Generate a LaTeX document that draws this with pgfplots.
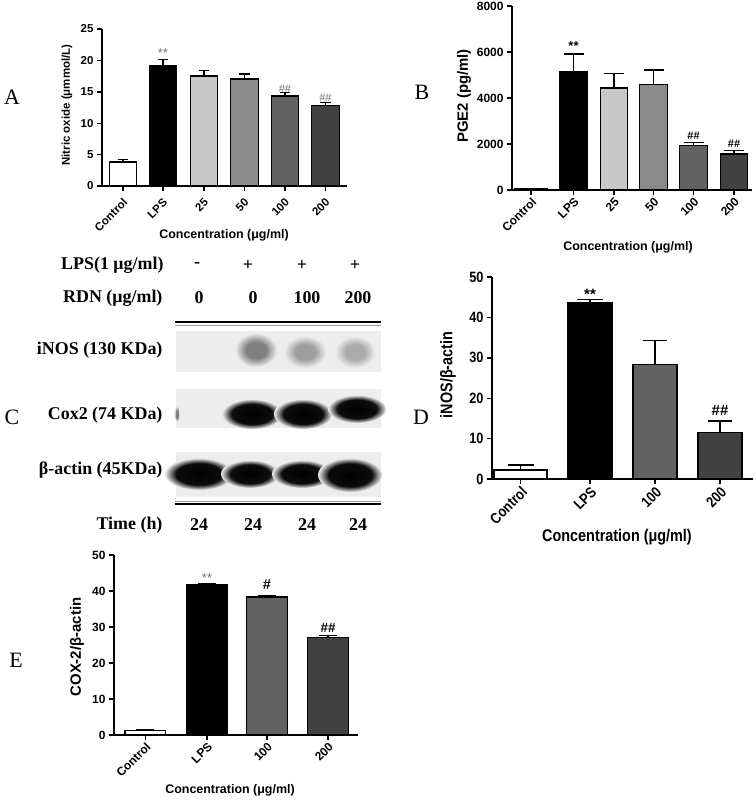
\documentclass[border=0pt]{standalone}
\usepackage{fontspec}
\setmainfont{Liberation Sans}
\newfontfamily\tms{Liberation Serif}
\newfontfamily\nar{Liberation Sans}[FakeStretch=0.85]
\usepackage{pgfplots}
\pgfplotsset{compat=1.18}

\definecolor{c25}{HTML}{C8C8C8}
\definecolor{c50}{HTML}{8A8A8A}
\definecolor{c100}{HTML}{626262}
\definecolor{c200}{HTML}{414141}
\definecolor{blotbg}{HTML}{EDEDED}
\colorlet{g1}{black!50}
\colorlet{g2}{black!38}
\colorlet{g3}{black!33}

% band shadings for the blot
\pgfdeclareradialshading{bandk}{\pgfpointorigin}{color(0bp)=(black); color(17bp)=(black!95); color(25bp)=(blotbg); color(50bp)=(blotbg)}
\pgfdeclareradialshading{bandg1}{\pgfpointorigin}{color(0bp)=(g1); color(12bp)=(g1); color(25bp)=(blotbg); color(50bp)=(blotbg)}
\pgfdeclareradialshading{bandg2}{\pgfpointorigin}{color(0bp)=(g2); color(12bp)=(g2); color(25bp)=(blotbg); color(50bp)=(blotbg)}
\pgfdeclareradialshading{bandg3}{\pgfpointorigin}{color(0bp)=(g3); color(12bp)=(g3); color(25bp)=(blotbg); color(50bp)=(blotbg)}

\pgfplotsset{
  gp/.style={
    scale only axis, clip=false,
    axis x line*=bottom, axis y line*=left,
    axis line style={line width=1.4bp},
    tick style={black, line width=1.4bp},
    major tick length=5bp,
    tick align=outside,
    xmin=0, ymin=0,
    /pgf/number format/assume math mode=true,
    /pgf/number format/1000 sep={},
    scaled y ticks=false,
    xticklabel style={rotate=45, anchor=north east, inner sep=1bp},
  },
  plainbar/.style={ybar, bar shift=0pt, fill=#1, draw=black, line width=1.4bp},
  gpbar/.style 2 args={plainbar=#1,
    error bars/.cd, y dir=plus, y explicit,
    error bar style={line width=1.4bp, black},
    error mark options={rotate=90, line width=1.4bp, black, mark size=#2}},
}

\begin{document}
\begin{tikzpicture}

% canvas in pixel units: panel C blot and all free text
\begin{axis}[hide axis, scale only axis, width=756bp, height=801bp,
  xmin=0, xmax=756, ymin=-801, ymax=0, at={(0bp,0bp)}, anchor=north west, clip=false]
\node[font=\tms\fontsize{22}{22}\selectfont] at (12,-97) {A};
\node[font=\tms\fontsize{22}{22}\selectfont] at (422,-92) {B};
\node[font=\tms\fontsize{22}{22}\selectfont] at (12,-417) {C};
\node[font=\tms\fontsize{22}{22}\selectfont] at (421,-417) {D};
\node[font=\tms\fontsize{22}{22}\selectfont] at (16,-660) {E};

\node[rotate=90, font=\bfseries\fontsize{11.5}{12}\selectfont] at (67,-105) {Nitric oxide (μmmol/L)};
\node[font=\bfseries\fontsize{12.5}{13}\selectfont] at (224,-235) {Concentration (μg/ml)};
\node[rotate=90, font=\bfseries\fontsize{15}{16}\selectfont] at (464,-96) {PGE2 (pg/ml)};
\node[font=\bfseries\fontsize{12.5}{13}\selectfont] at (628,-247) {Concentration (μg/ml)};
\node[rotate=90, font=\nar\bfseries\fontsize{17}{18}\selectfont] at (448,-375) {iNOS/β-actin};
\node[font=\nar\bfseries\fontsize{17}{18}\selectfont] at (617,-537) {Concentration (μg/ml)};
\node[rotate=90, font=\bfseries\fontsize{15}{16}\selectfont] at (77,-647) {COX-2/β-actin};
\node[font=\bfseries\fontsize{12.5}{13}\selectfont] at (230,-790) {Concentration (μg/ml)};

% blot
\draw[line width=2bp] (175,-322) -- (381,-322);
\draw[black!40, line width=0.8bp] (175,-325) -- (381,-325);
\draw[line width=2bp] (175,-504) -- (381,-504);
\draw[black!40, line width=0.8bp] (175,-501) -- (381,-501);
\fill[blotbg] (176,-331) rectangle (381,-372);
\fill[blotbg] (176,-389) rectangle (381,-428);
\fill[blotbg] (176,-452) rectangle (381,-497);
\shade[shading=bandg1] (256,-350) ellipse [x radius=21bp, y radius=17bp];
\shade[shading=bandg2] (305,-352) ellipse [x radius=21bp, y radius=16bp];
\shade[shading=bandg3] (355,-352) ellipse [x radius=20bp, y radius=16bp];
\shade[shading=bandg1] (177,-414) ellipse [x radius=2.5bp, y radius=8bp];
\shade[shading=bandk] (252,-414) ellipse [x radius=30bp, y radius=15bp];
\shade[shading=bandk] (303,-414) ellipse [x radius=29bp, y radius=15bp];
\shade[shading=bandk] (357,-409) ellipse [x radius=29bp, y radius=14bp];
\shade[shading=bandk] (199,-474) ellipse [x radius=34bp, y radius=16bp];
\shade[shading=bandk] (250,-474) ellipse [x radius=29bp, y radius=14bp];
\shade[shading=bandk] (302,-474) ellipse [x radius=30bp, y radius=14bp];
\shade[shading=bandk] (350,-475) ellipse [x radius=32bp, y radius=17bp];

\begin{scope}[font=\tms\bfseries\fontsize{18}{18}\selectfont]
\node[anchor=east] at (167,-265) {LPS(1 μg/ml)};
\node at (197,-265) {-};
\node at (248,-265) {+};
\node at (302,-265) {+};
\node at (355,-265) {+};
\node[anchor=east] at (166,-298) {RDN (μg/ml)};
\node at (199,-298) {0};
\node at (253,-298) {0};
\node at (307,-298) {100};
\node at (358,-298) {200};
\node[anchor=east] at (166,-350) {iNOS (130 KDa)};
\node[anchor=east] at (166,-415) {Cox2 (74 KDa)};
\node[anchor=east] at (166,-470) {β-actin (45KDa)};
\node[anchor=east] at (166,-525) {Time (h)};
\node at (199,-525) {24};
\node at (253,-525) {24};
\node at (307,-525) {24};
\node at (358,-525) {24};
\end{scope}
\end{axis}

% A: nitric oxide
\begin{axis}[gp, at={(102bp,-186bp)}, anchor=south west, width=245bp, height=157bp,
  xmax=245, ymax=25, ytick={0,5,10,15,20,25},
  xtick={21,61,102,142.5,183,223.5}, xticklabels={Control,LPS,25,50,100,200},
  xticklabel style={xshift=-4bp, yshift=-3bp},
  bar width=27.5, tick label style={font=\bfseries\fontsize{11.5}{12}\selectfont}]
\addplot[gpbar={white}{5.3bp}] coordinates {(21,3.84) +- (0,0.36)};
\addplot[gpbar={black}{5.3bp}] coordinates {(61,19.19) +- (0,1.0)};
\addplot[gpbar={c25}{5.3bp}] coordinates {(102,17.54) +- (0,0.86)};
\addplot[gpbar={c50}{5.3bp}] coordinates {(142.5,17.06) +- (0,0.8)};
\addplot[gpbar={c100}{5.3bp}] coordinates {(183,14.34) +- (0,0.53)};
\addplot[gpbar={c200}{5.3bp}] coordinates {(223.5,12.85) +- (0,0.48)};
\node[anchor=base, text=black!55, font=\fontsize{13}{13}\selectfont] at (61,20.4) {**};
\node[anchor=base, text=black!55, font=\fontsize{11}{11}\selectfont] at (183,14.9) {\#\#};
\node[anchor=base, text=black!55, font=\fontsize{11}{11}\selectfont] at (223.5,13.4) {\#\#};
\end{axis}

% B: PGE2
\begin{axis}[gp, at={(512bp,-190bp)}, anchor=south west, width=240bp, height=184bp,
  xmax=240, ymax=8000, ytick={0,2000,4000,6000,8000},
  xtick={19,61.5,102,141.5,181.5,222}, xticklabels={Control,LPS,25,50,100,200},
  bar width=27.5, tick label style={font=\bfseries\fontsize{12}{12}\selectfont}]
\addplot[plainbar=white, bar width=32] coordinates {(19,60)};
\addplot[gpbar={black}{10bp}] coordinates {(61.5,5150) +- (0,767)};
\addplot[gpbar={c25}{10bp}] coordinates {(102,4427) +- (0,651)};
\addplot[gpbar={c50}{10bp}] coordinates {(141.5,4586) +- (0,636)};
\addplot[gpbar={c100}{10bp}] coordinates {(181.5,1938) +- (0,116)};
\addplot[gpbar={c200}{10bp}] coordinates {(222,1562) +- (0,159)};
\node[anchor=base, font=\bfseries\fontsize{13}{13}\selectfont] at (61.5,6060) {**};
\node[anchor=base, font=\bfseries\fontsize{11}{11}\selectfont] at (181.5,2200) {\#\#};
\node[anchor=base, font=\bfseries\fontsize{11}{11}\selectfont] at (222,1850) {\#\#};
\end{axis}

% D: iNOS / beta-actin
\begin{axis}[gp, at={(492bp,-479bp)}, anchor=south west, width=261bp, height=202bp,
  xmax=261, ymax=50, ytick={0,10,20,30,40,50},
  xtick={28.5,98,163,228}, xticklabels={Control,LPS,100,200},
  bar width=44, tick label style={font=\nar\bfseries\fontsize{15}{15}\selectfont}]
\addplot[bar width=53, gpbar={white}{13bp}] coordinates {(28.5,2.22) +- (0,1.24)};
\addplot[gpbar={black}{13bp}] coordinates {(98,43.74) +- (0,0.66)};
\addplot[gpbar={c100}{12bp}] coordinates {(163,28.34) +- (0,5.93)};
\addplot[gpbar={c200}{12bp}] coordinates {(228,11.53) +- (0,2.8)};
\node[anchor=base, font=\bfseries\fontsize{15}{15}\selectfont] at (98,44.5) {**};
\node[anchor=base, font=\bfseries\fontsize{15}{15}\selectfont] at (228,15.8) {\#\#};
\end{axis}

% E: COX-2 / beta-actin
\begin{axis}[gp, at={(114bp,-735bp)}, anchor=south west, width=244bp, height=180bp,
  xmax=244, ymax=50, ytick={0,10,20,30,40,50},
  xtick={31.3,93,153,214}, xticklabels={Control,LPS,100,200},
  bar width=40.5, tick label style={font=\bfseries\fontsize{12}{12}\selectfont}]
\addplot[gpbar={white}{9bp}] coordinates {(31.3,1.2) +- (0,0.15)};
\addplot[gpbar={black}{9bp}] coordinates {(93,41.67) +- (0,0.35)};
\addplot[gpbar={c100}{9bp}] coordinates {(153,38.33) +- (0,0.37)};
\addplot[gpbar={c200}{9bp}] coordinates {(214,27.04) +- (0,0.65)};
\node[anchor=base, text=black!55, font=\fontsize{13}{13}\selectfont] at (93,42.3) {**};
\node[anchor=base, font=\bfseries\fontsize{14.5}{14.5}\selectfont] at (153,40.3) {\#};
\node[anchor=base, font=\bfseries\fontsize{13.5}{13.5}\selectfont] at (214,28.6) {\#\#};
\end{axis}

\pgfresetboundingbox
\path[use as bounding box] (0bp,0bp) rectangle (756bp,-801bp);
\end{tikzpicture}
\end{document}
